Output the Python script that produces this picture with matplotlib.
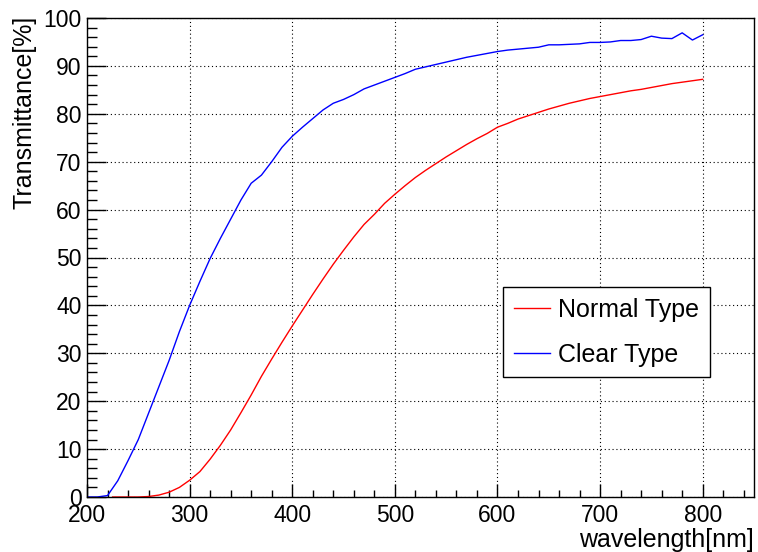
import matplotlib
matplotlib.use("Agg")
import matplotlib.pyplot as plt
from matplotlib.ticker import MultipleLocator

plt.rcParams['font.family'] = ['Liberation Sans', 'DejaVu Sans']

# transmittance of the clear type, sampled every 10 nm
clear_wl = [200, 210, 220, 230, 240, 250, 260, 270, 280, 290,
            300, 310, 320, 330, 340, 350, 360, 370, 380, 390,
            400, 410, 420, 430, 440, 450, 460, 470, 480, 490,
            500, 510, 520, 530, 540, 550, 560, 570, 580, 590,
            600, 610, 620, 630, 640, 650, 660, 670, 680, 690,
            700, 710, 720, 730, 740, 750, 760, 770, 780, 790, 800]
clear_tr = [0.0, 0.0, 0.3, 3.4, 7.6, 12.0, 17.5, 23.0, 28.5, 34.5,
            40.0, 45.0, 49.8, 54.0, 58.0, 62.0, 65.5, 67.2, 70.0, 73.0,
            75.3, 77.2, 79.0, 80.8, 82.2, 83.0, 84.0, 85.2, 86.0, 86.8,
            87.6, 88.4, 89.3, 89.8, 90.3, 90.8, 91.3, 91.8, 92.2, 92.6,
            93.0, 93.3, 93.5, 93.7, 93.9, 94.4, 94.4, 94.5, 94.6, 94.9,
            94.9, 95.0, 95.3, 95.3, 95.5, 96.2, 95.8, 95.7, 96.9, 95.4, 96.5]

# transmittance of the normal type
normal_wl = [225, 240, 250, 260, 270, 280, 290,
             300, 310, 320, 330, 340, 350, 360, 370, 380, 390,
             400, 410, 420, 430, 440, 450, 460, 470, 480, 490,
             500, 510, 520, 530, 540, 550, 560, 570, 580, 590,
             600, 610, 620, 630, 640, 650, 660, 670, 680, 690,
             700, 710, 720, 730, 740, 750, 760, 770, 780, 790, 800]
normal_tr = [0.0, 0.0, 0.0, 0.1, 0.4, 1.0, 2.0,
             3.5, 5.3, 7.9, 10.8, 14.0, 17.6, 21.3, 25.2, 28.8, 32.3,
             35.7, 39.0, 42.3, 45.5, 48.6, 51.5, 54.3, 56.9, 59.0, 61.3,
             63.2, 65.0, 66.7, 68.2, 69.6, 71.0, 72.3, 73.6, 74.8, 75.9,
             77.2, 78.0, 78.9, 79.6, 80.3, 81.0, 81.6, 82.2, 82.7, 83.2,
             83.6, 84.0, 84.4, 84.8, 85.1, 85.5, 85.9, 86.3, 86.6, 86.9, 87.2]

fig = plt.figure(figsize=(7.58, 5.52), dpi=100)
ax = fig.add_axes([87/758, 1 - 497/552, 667/758, 479/552])

ax.plot(normal_wl, normal_tr, color='#ff0000', lw=1.0, label='Normal Type')
ax.plot(clear_wl, clear_tr, color='#0000ff', lw=1.0, label='Clear Type')

ax.set_xlim(200, 850)
ax.set_ylim(0, 100)
ax.xaxis.set_major_locator(MultipleLocator(100))
ax.xaxis.set_minor_locator(MultipleLocator(20))
ax.yaxis.set_major_locator(MultipleLocator(10))
ax.yaxis.set_minor_locator(MultipleLocator(2))

ax.grid(True, which='major', color='black', lw=0.8, linestyle=(0, (1, 2.5)))
for s in ax.spines.values():
    s.set_linewidth(1.0)

ax.tick_params(axis='both', which='both', direction='in', width=1.0,
               labelsize=16.5, top=False, right=False)
ax.tick_params(axis='y', which='major', length=13.5, pad=4)
ax.tick_params(axis='y', which='minor', length=7)
ax.tick_params(axis='x', which='major', length=9.5, pad=5)
ax.tick_params(axis='x', which='minor', length=5)

ax.set_xlabel('wavelength[nm]', fontsize=18, loc='right')
ax.xaxis.set_label_coords(1.0, -0.065)
ax.set_ylabel('Transmittance[%]', fontsize=18, loc='top')
ax.yaxis.set_label_coords(-0.076, 1.005)

leg = ax.legend(loc='upper left', bbox_to_anchor=((503 - 87) / 667, (497 - 287) / 479),
                borderaxespad=0, fontsize=18, frameon=True, fancybox=False,
                edgecolor='black', framealpha=1, handlelength=1.45,
                handletextpad=0.35, labelspacing=0.85, borderpad=0.42)
leg.get_frame().set_linewidth(1.0)

fig.savefig('out.png', dpi=100)
